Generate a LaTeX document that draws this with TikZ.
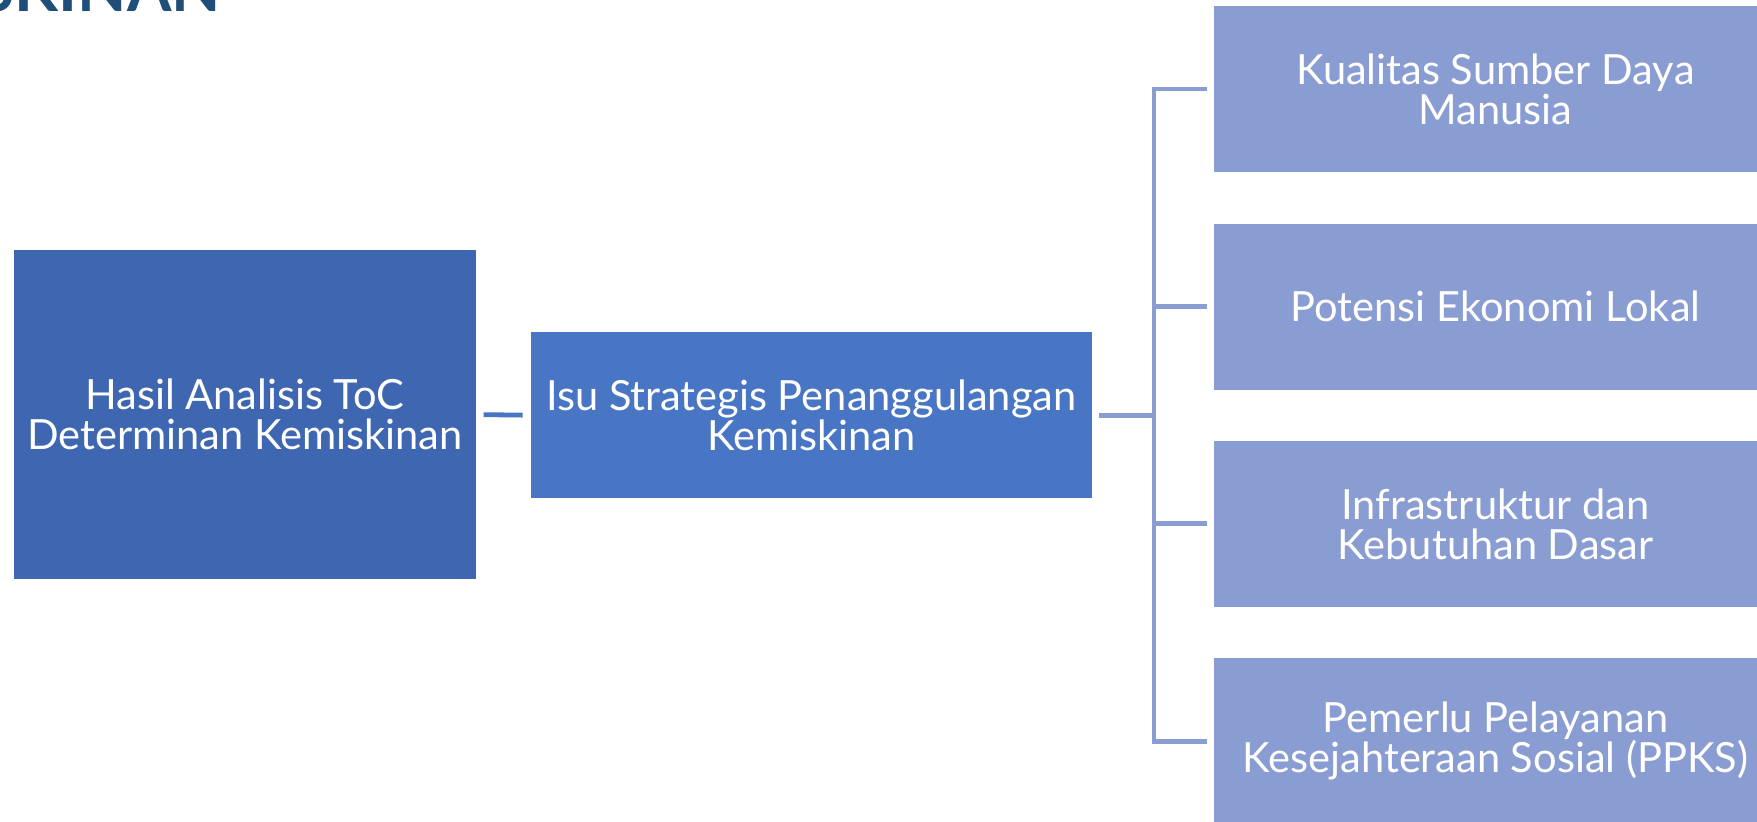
\documentclass[tikz,border=0pt]{standalone}
\usepackage{fontspec}
\setmainfont{Lato}
\newfontfamily\titlefont{Lato}
\definecolor{cL}{HTML}{3F67B1}
\definecolor{cM}{HTML}{4876C4}
\definecolor{cR}{HTML}{8A9DD2}
\definecolor{cT}{HTML}{1F4E79}
\tikzset{
  box/.style={rectangle, draw=white, line width=0.4pt, text=white, align=center,
    font=\fontsize{20.8}{20}\selectfont, inner sep=0pt},
  lbox/.style={box, fill=cL, minimum width=231.4pt, minimum height=164.7pt},
  mbox/.style={box, fill=cM, minimum width=281.25pt, minimum height=83.45pt},
  rbox/.style={box, fill=cR, minimum width=282pt, minimum height=83.5pt},
  conn/.style={line width=2.4pt},
}
\begin{document}
\begin{tikzpicture}[x=0.5pt,y=-0.5pt]
\useasboundingbox (0,0) rectangle (1757,822);
\clip (0,0) rectangle (1757,822);
\fill[white] (0,0) rectangle (1757,822);
\node[anchor=base east, text=cT, font=\titlefont\bfseries\fontsize{32}{32}\selectfont, inner sep=0pt] (title) at (221,12) {KEMISKINAN};
\node[lbox] (L) at (244.8,414.6) {Hasil Analisis ToC\\Determinan Kemiskinan};
\node[mbox] (M) at (811.25,415.2) {Isu Strategis Penanggulangan\\Kemiskinan};
\node[rbox] (R1) at (1495.5,89.1) {Kualitas Sumber Daya\\Manusia};
\node[rbox] (R2) at (1495.5,306.5) {Potensi Ekonomi Lokal};
\node[rbox] (R3) at (1495.5,523.9) {Infrastruktur dan\\Kebutuhan Dasar};
\node[rbox] (R4) at (1495.5,741.2) {Pemerlu Pelayanan\\Kesejahteraan Sosial (PPKS)};
\coordinate (T) at (1154,415.2);
\draw[conn, draw=cM, shorten <=3.5pt, shorten >=3.5pt] (L.east) -- (M.west);
\draw[conn, draw=cR, shorten <=3.2pt] (M.east) -- (T);
\draw[conn, draw=cR, shorten <=3.2pt, shorten >=3.2pt] (R1.west) -| (T) |- (R4.west);
\draw[conn, draw=cR, shorten >=3.2pt] (R2.west -| T) -- (R2.west);
\draw[conn, draw=cR, shorten >=3.2pt] (R3.west -| T) -- (R3.west);
\end{tikzpicture}
\end{document}
